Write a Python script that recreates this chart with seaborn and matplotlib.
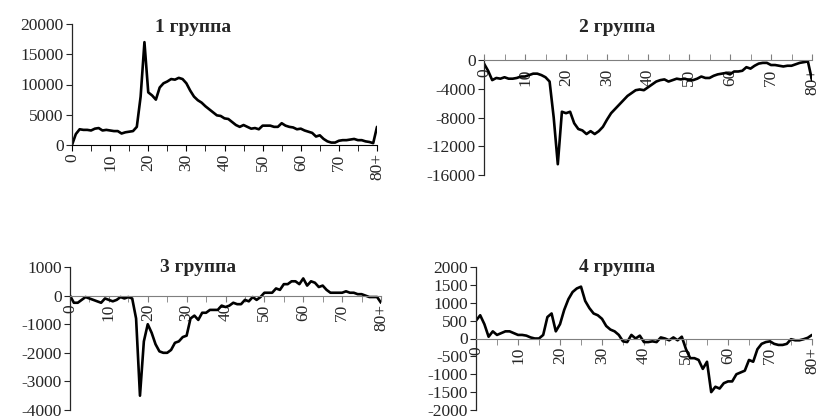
import numpy as np
import pandas as pd
import matplotlib
matplotlib.use('Agg')
import matplotlib.pyplot as plt
import seaborn as sns

ages = list(range(81))
age_labels = ['0', '10', '20', '30', '40', '50', '60', '70', '80+']

group1 = [0, 1800, 2600, 2500, 2500, 2400, 2700, 2800, 2400, 2500,
          2400, 2300, 2300, 1900, 2100, 2200, 2300, 3000, 8000, 17000,
          8700, 8200, 7500, 9500, 10200, 10500, 10900, 10800, 11100, 10900,
          10200, 9000, 8000, 7400, 7000, 6400, 5900, 5400, 4900, 4800,
          4400, 4300, 3800, 3300, 3000, 3300, 3000, 2700, 2800, 2600,
          3200, 3200, 3200, 3000, 3000, 3600, 3200, 3000, 2900, 2600,
          2700, 2400, 2200, 2000, 1400, 1600, 1000, 600, 400, 400,
          700, 800, 800, 900, 1000, 800, 800, 600, 500, 300, 3000]

group2 = [-500, -1500, -2800, -2500, -2600, -2400, -2600, -2600, -2500, -2300,
          -2300, -2100, -1900, -1900, -2100, -2400, -3000, -8000, -14500, -7200,
          -7400, -7200, -8800, -9600, -9800, -10300, -9900, -10300, -9900, -9300,
          -8300, -7400, -6800, -6200, -5600, -5000, -4600, -4200, -4100, -4200,
          -3800, -3400, -3000, -2800, -2700, -3000, -2800, -2600, -2700, -2600,
          -2800, -2800, -2600, -2300, -2500, -2500, -2200, -2000, -1900, -1800,
          -2000, -1600, -1600, -1500, -1000, -1200, -800, -500, -400, -400,
          -700, -700, -800, -900, -800, -800, -600, -400, -300, -200, -2800]

group3 = [0, -250, -250, -150, -50, -100, -150, -200, -250, -100,
          -150, -200, -150, -50, -100, -50, -100, -800, -3500, -1600,
          -1000, -1300, -1700, -1950, -2000, -2000, -1900, -1650, -1600, -1450,
          -1400, -800, -700, -850, -600, -600, -500, -500, -500, -350,
          -400, -350, -250, -300, -300, -150, -200, -50, -150, -50,
          100, 100, 100, 250, 200, 400, 400, 500, 500, 400,
          600, 350, 500, 450, 300, 350, 200, 100, 100, 100,
          100, 150, 100, 100, 50, 50, 0, -50, -50, -50, -250]

group4 = [500, 650, 400, 50, 200, 100, 150, 200, 200, 150,
          100, 100, 80, 30, 0, 0, 100, 600, 700, 200,
          400, 800, 1100, 1300, 1400, 1450, 1050, 850, 700, 650,
          550, 350, 250, 200, 100, -80, -100, 100, 0, 80,
          -100, -100, -80, -100, 30, 0, -50, 30, -50, 50,
          -300, -550, -550, -600, -850, -650, -1500, -1350, -1400, -1250,
          -1200, -1200, -1000, -950, -900, -600, -650, -300, -150, -100,
          -80, -150, -180, -180, -150, -20, -50, -50, -20, 20, 100]

titles = ['1 группа', '2 группа', '3 группа', '4 группа']

sns.set_style('ticks')
plt.rcParams['font.family'] = ['Liberation Serif', 'DejaVu Serif']
plt.rcParams['axes.unicode_minus'] = False

W, H = 821, 420
fig = plt.figure(figsize=(W / 100, H / 100), dpi=100)

# (left, top, right, bottom) in pixels, ylim, yticks, x tick direction, x axis colour, title pos, label pad
panels = [
    ((72, 24, 377, 145), (0, 20000), [0, 5000, 10000, 15000, 20000], 'out', 'black', (193, 28), 2),
    ((484, 60, 812, 175), (-16000, 0), [-16000, -12000, -8000, -4000, 0], 'in', '#7f7f7f', (617, 28), 6),
    ((70, 267, 381, 410), (-4000, 1000), [-4000, -3000, -2000, -1000, 0, 1000], 'out', '#7f7f7f', (198, 268), 2),
    ((476, 267, 812, 410), (-2000, 2000), list(range(-2000, 2001, 500)), 'out', '#7f7f7f', (617, 268), 2),
]

for series, title, (box, ylim, yticks, tdir, xcol, tpos, xpad) in zip(
        [group1, group2, group3, group4], titles, panels):
    l, t, r, b = box
    ax = fig.add_axes([l / W, 1 - b / H, (r - l) / W, (b - t) / H])
    df = pd.DataFrame({'age': ages, 'value': series})
    sns.lineplot(data=df, x='age', y='value', ax=ax, color='black', linewidth=1.9)
    for s in ['top', 'right']:
        ax.spines[s].set_visible(False)
    ax.spines['bottom'].set_position(('data', 0))
    ax.spines['bottom'].set_color(xcol)
    ax.spines['left'].set_linewidth(0.9)
    ax.set_xlim(0, 80)
    ax.set_ylim(*ylim)
    ax.set_yticks(yticks)
    ax.set_yticklabels([str(v) for v in yticks])
    ax.set_xticks(range(0, 81, 10))
    ax.set_xticks(range(0, 81, 5), minor=True)
    ax.set_xticklabels(age_labels)
    ax.set_xlabel('')
    ax.set_ylabel('')
    ax.tick_params(axis='x', which='both', direction=tdir, length=4, color=xcol, pad=xpad,
                   labelrotation=90, labelsize=12.5)
    ax.tick_params(axis='y', direction='out', length=4, pad=2, labelsize=12.5)
    ax.patch.set_alpha(0)
    fig.text(tpos[0] / W, 1 - tpos[1] / H, title, ha='center', va='center',
             fontsize=14, fontweight='bold')

fig.savefig('out.png', dpi=100)
